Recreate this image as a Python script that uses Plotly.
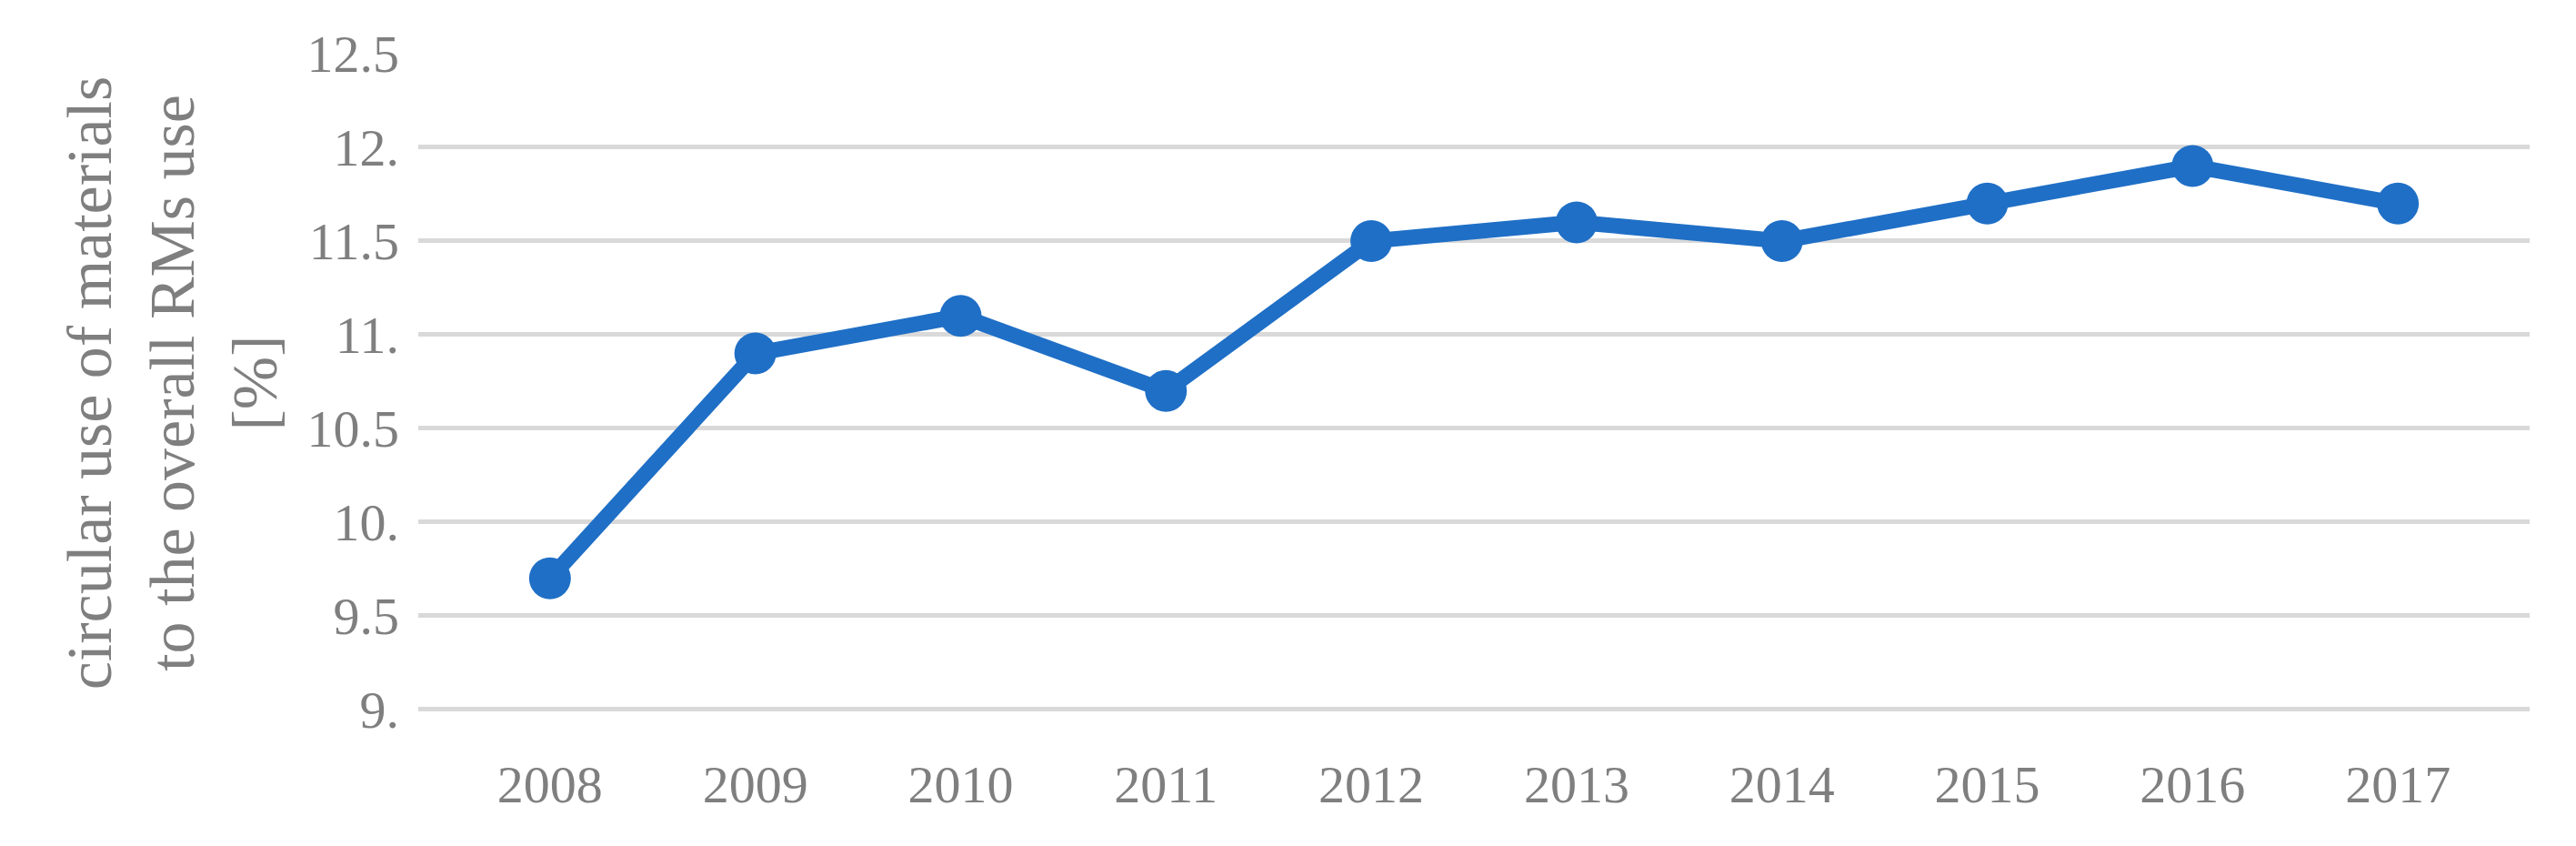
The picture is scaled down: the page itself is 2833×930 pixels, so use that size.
import plotly.graph_objects as go

years = ["2008","2009","2010","2011","2012","2013","2014","2015","2016","2017"]
values = [9.7,10.9,11.1,10.7,11.5,11.6,11.5,11.7,11.9,11.7]
tick_vals = [9,9.5,10,10.5,11,11.5,12,12.5]
tick_text = ["9.","9.5","10.","10.5","11.","11.5","12.","12.5"]

fig = go.Figure(go.Scatter(x=years, y=values, mode="lines+markers",
    line=dict(color="#1f6fc6", width=17),
    marker=dict(color="#1f6fc6", size=46)))

font = dict(family="Liberation Serif, DejaVu Serif, serif", size=58, color="#7f7f7f")
fig.update_layout(width=2833, height=930, plot_bgcolor="white", paper_bgcolor="white",
    margin=dict(l=452, r=59, t=51, b=155), font=font, showlegend=False)
fig.update_xaxes(type="category", showgrid=False, showline=False, ticks="", ticklen=0,
    ticklabelstandoff=40)
fig.update_yaxes(range=[8.985,12.5], tickvals=tick_vals, ticktext=tick_text,
    gridcolor="#d9d9d9", gridwidth=5, zeroline=False, showline=False, ticks="",
    ticklabelstandoff=20,
    title=dict(text="circular use of materials<br>to the overall RMs use<br>[%]", standoff=10))
fig.write_html("out.html")
